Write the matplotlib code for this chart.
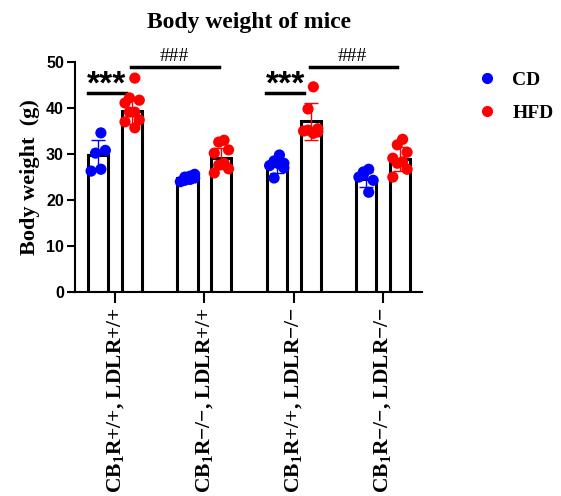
import numpy as np
import matplotlib.pyplot as plt
from matplotlib.lines import Line2D

plt.rcParams['mathtext.default'] = 'regular'

# groups on the x axis
groups = ["CB$_1$R+/+, LDLR+/+", "CB$_1$R\u2212/\u2212, LDLR+/+",
          "CB$_1$R+/+, LDLR\u2212/\u2212", "CB$_1$R\u2212/\u2212, LDLR\u2212/\u2212"]

# bar heights (mean) and sd
cd_mean = [29.7, 24.7, 27.3, 24.5]
cd_sd = [3.4, 0.6, 1.4, 1.6]
hfd_mean = [39.4, 29.1, 37.1, 29.0]
hfd_sd = [2.8, 2.3, 4.1, 2.6]

# individual mice
cd_pts = [
    [34.6, 30.2, 30.8, 26.3, 26.7],
    [24.5, 25.0, 25.6, 24.0, 25.2, 24.3, 24.8],
    [29.8, 28.5, 28.0, 27.5, 27.8, 24.8, 27.0],
    [26.7, 26.1, 24.3, 25.0, 21.7, 25.5],
]
hfd_pts = [
    [46.5, 42.2, 41.7, 41.1, 39.1, 39.1, 37.4, 37.0, 35.7],
    [33.0, 32.6, 30.9, 30.2, 28.0, 27.6, 26.8, 25.9],
    [44.6, 39.8, 35.5, 35.0, 34.5, 35.2, 34.8],
    [33.2, 32.0, 30.4, 29.1, 28.3, 28.0, 26.7, 25.0],
]

serif = 'Liberation Serif'
sans = 'Liberation Sans'

fig = plt.figure(figsize=(5.61, 4.96), dpi=100)
ax = fig.add_axes([0.1337, 0.411, 0.619, 0.464])

x = np.arange(len(groups))
off = 0.19
w = 0.225

def draw(xc, means, sds, pts, color):
    ax.bar(xc, means, width=w, color='white', edgecolor='black', linewidth=2.2, zorder=2)
    for xi, m, s, p in zip(xc, means, sds, pts):
        n = len(p)
        jit = np.array([(-1) ** i * (0.03 + 0.05 * ((i // 2) % 2)) for i in range(n)])
        ax.scatter(xi + jit, p, s=65, color=color, zorder=3, edgecolors='none')
        ax.errorbar(xi, m, yerr=s, color=color, capsize=5, elinewidth=1, capthick=1, zorder=4)

draw(x - off, cd_mean, cd_sd, cd_pts, 'blue')
draw(x + off, hfd_mean, hfd_sd, hfd_pts, 'red')

# significance marks
for g in [0, 2]:
    x0, x1 = g - off - 0.12, g + off - 0.07
    ax.plot([x0, x1], [43.3, 43.3], color='black', lw=2.5, clip_on=False)
    ax.text((x0 + x1) / 2, 41.7, '***', ha='center', va='bottom', fontsize=24,
            fontweight='bold', family=sans)
    ax.plot([g + off - 0.01, g + 1 + 0.16], [48.9, 48.9], color='black', lw=2.5, clip_on=False)
    ax.text(g + 0.66, 49.3, '###', ha='center', va='bottom', fontsize=14, family=serif, clip_on=False)

ax.set_xlim(-0.45, 3.44)
ax.set_ylim(0, 50)
ax.set_yticks([0, 10, 20, 30, 40, 50])
ax.set_xticks(x)
ax.set_xticklabels(groups, rotation=90, family=serif, fontweight='bold', fontsize=15.5)
for lab in ax.get_yticklabels():
    lab.set_family(sans)
    lab.set_fontweight('bold')
    lab.set_fontsize(11.5)
ax.tick_params(axis='y', length=6, width=1.5, pad=2)
ax.tick_params(axis='x', length=8, width=1.5, pad=3)
for s in ['top', 'right']:
    ax.spines[s].set_visible(False)
for s in ['left', 'bottom']:
    ax.spines[s].set_linewidth(1.5)

ax.set_ylabel('Body weight  (g)', family=serif, fontweight='bold', fontsize=16, labelpad=4)
fig.text(0.444, 0.955, 'Body weight of mice', ha='center', va='center',
         family=serif, fontweight='bold', fontsize=17)

handles = [Line2D([], [], marker='o', ls='none', color='blue', markersize=7),
           Line2D([], [], marker='o', ls='none', color='red', markersize=7)]
fig.legend(handles, ['CD', 'HFD'], loc='upper left', bbox_to_anchor=(0.802, 0.892),
           frameon=False, prop={'family': serif, 'weight': 'bold', 'size': 14},
           handletextpad=0.3, labelspacing=0.8)

fig.savefig('out.png', dpi=100)
